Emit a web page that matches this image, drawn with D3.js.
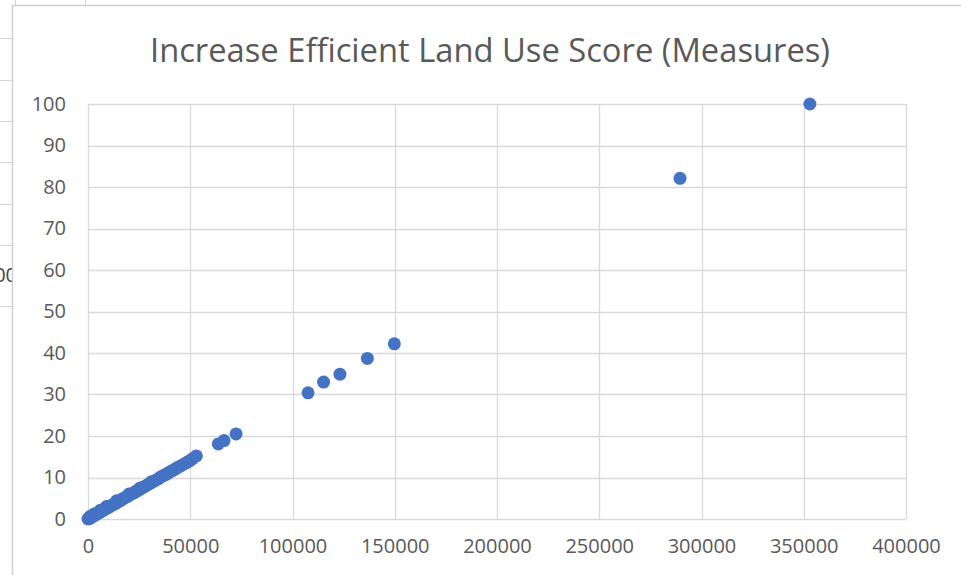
<!DOCTYPE html>
<html>
<head>
<meta charset="utf-8">
<script src="https://cdn.jsdelivr.net/npm/d3@7"></script>
<style>
  html, body { margin: 0; padding: 0; background: #ffffff; }
  svg { display: block; }
</style>
</head>
<body>
<svg id="chart" width="961" height="575"></svg>
<script>
// ---- data ----
const chartTitle = "Increase Efficient Land Use Score (Measures)";
const xValues = [0, 200, 500, 800, 1000, 1200, 1500, 1900, 2300, 2800, 3000, 3200, 3700, 4100, 4600, 5200, 5800, 6000, 6300,
  6900, 7400, 8100, 8700, 9000, 9300, 9900, 10600, 11200, 11900, 12500, 13200, 13900, 14000, 14500, 15300, 16000, 16800,
  17500, 18300, 19100, 19800, 20000, 20700, 21500, 22400, 23200, 24100, 25000, 25500, 26000, 27000, 28000, 29000, 30000,
  31000, 31100, 32200, 33300, 34400, 35500, 36700, 37900, 39000, 40200, 41500, 42800, 44000, 45300, 46800, 48200,
  49600, 51000, 53000, 63700, 66500, 72400, 107600, 115200, 123200, 136600, 149800, 289500, 353000];
const yValues = [0, 0.1, 0.1, 0.2, 0.6, 0.3, 0.4, 0.5, 0.7, 0.8, 1.2, 0.9, 1.0, 1.2, 1.3, 1.5, 1.6, 2.1, 1.8,
  2.0, 2.1, 2.3, 2.5, 3.0, 2.6, 2.8, 3.0, 3.2, 3.4, 3.5, 3.7, 3.9, 4.4, 4.1, 4.3, 4.5, 4.8,
  5.0, 5.2, 5.4, 5.6, 6.0, 5.9, 6.1, 6.3, 6.6, 6.8, 7.1, 7.5, 7.4, 7.6, 7.9, 8.2, 8.5,
  9.0, 8.8, 9.1, 9.4, 9.7, 10.1, 10.4, 10.7, 11.0, 11.4, 11.7, 12.1, 12.5, 12.8, 13.2, 13.6,
  14.0, 14.5, 15.2, 18.1, 18.9, 20.5, 30.4, 33.0, 34.9, 38.7, 42.2, 82.1, 100];
const xTicks = [0, 50000, 100000, 150000, 200000, 250000, 300000, 350000, 400000];
const yTicks = [0, 10, 20, 30, 40, 50, 60, 70, 80, 90, 100];

const points = xValues.map((x, i) => ({ x: x, y: yValues[i] }));

// ---- layout ----
const svg = d3.select("#chart");
const plot = { left: 88, right: 906, top: 104, bottom: 519 };
const gridColor = "#d9d9d9";
const textColor = "#595959";
const font = "'Open Sans', 'DejaVu Sans', sans-serif";

// spreadsheet background behind the chart object
const sheet = svg.append("g");
[38, 80, 121, 162, 204, 245, 306].forEach(y => {
  sheet.append("line").attr("x1", 0).attr("x2", 12).attr("y1", y + 0.5).attr("y2", y + 0.5)
    .attr("stroke", "#d4d4d4");
});
[15, 85].forEach(x => {
  sheet.append("line").attr("x1", x + 0.5).attr("x2", x + 0.5).attr("y1", 0).attr("y2", 5)
    .attr("stroke", "#d4d4d4");
});
sheet.append("text").attr("x", 17).attr("y", 282).attr("text-anchor", "end")
  .attr("font-family", font).attr("font-size", 20).attr("fill", "#444").text("00");

// chart area
svg.append("rect").attr("x", 12.5).attr("y", 5.5).attr("width", 980).attr("height", 600)
  .attr("fill", "#ffffff").attr("stroke", "#d0d0d0").attr("stroke-width", 1.5);

const x = d3.scaleLinear().domain([0, 400000]).range([plot.left, plot.right]);
const y = d3.scaleLinear().domain([0, 100]).range([plot.bottom, plot.top]);

// gridlines
const grid = svg.append("g");
grid.selectAll("line.h").data(yTicks).join("line")
  .attr("x1", plot.left).attr("x2", plot.right)
  .attr("y1", d => Math.round(y(d)) + 0.5).attr("y2", d => Math.round(y(d)) + 0.5)
  .attr("stroke", gridColor).attr("stroke-width", 1.3);
grid.selectAll("line.v").data(xTicks).join("line")
  .attr("y1", plot.top).attr("y2", plot.bottom)
  .attr("x1", d => Math.round(x(d)) + 0.5).attr("x2", d => Math.round(x(d)) + 0.5)
  .attr("stroke", gridColor).attr("stroke-width", 1.3);

// axes (labels only, via d3 axis generators)
const xAxis = d3.axisBottom(x).tickValues(xTicks).tickFormat(d3.format("d")).tickSize(0).tickPadding(0);
const gx = svg.append("g").attr("transform", `translate(0, ${plot.bottom + 20})`).call(xAxis);
const yAxis = d3.axisLeft(y).tickValues(yTicks).tickFormat(d3.format("d")).tickSize(0).tickPadding(0);
const gy = svg.append("g").attr("transform", `translate(${plot.left - 22}, 0)`).call(yAxis);
[gx, gy].forEach(g => {
  g.select(".domain").remove();
  g.selectAll("text").attr("font-family", font).attr("font-size", 20).attr("fill", textColor);
});

// points
svg.append("g").selectAll("circle").data(points).join("circle")
  .attr("cx", d => x(d.x)).attr("cy", d => y(d.y)).attr("r", 6.5)
  .attr("fill", "#4472c4");

// title
const title = svg.append("text").attr("x", 490).attr("y", 62).attr("text-anchor", "middle")
  .attr("font-family", font).attr("font-size", 33).attr("fill", textColor).text(chartTitle);
const tl = title.node().getComputedTextLength();
if (tl > 680) title.attr("textLength", 680).attr("lengthAdjust", "spacingAndGlyphs");
</script>
</body>
</html>
